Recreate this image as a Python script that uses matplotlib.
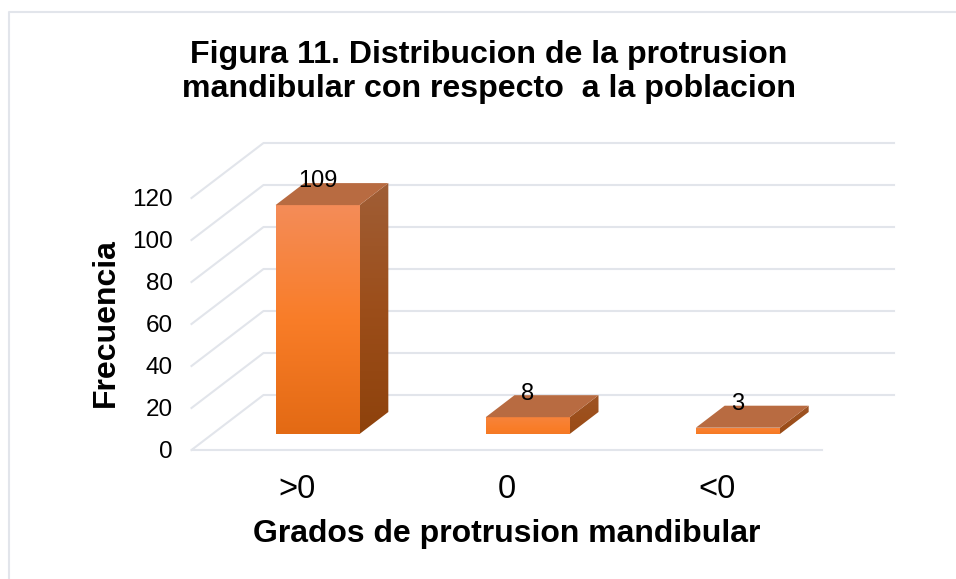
import numpy as np
import matplotlib
matplotlib.use('Agg')
import matplotlib.pyplot as plt
from matplotlib.colors import LinearSegmentedColormap
from matplotlib.lines import Line2D
from matplotlib.patches import Polygon

plt.rcParams['font.family'] = ['Liberation Sans', 'DejaVu Sans']

categories = ['>0', '0', '<0']
values = [109, 8, 3]
yticks = [0, 20, 40, 60, 80, 100, 120]
title = 'Figura 11. Distribucion de la protrusion\nmandibular con respecto  a la poblacion'
xlabel = 'Grados de protrusion mandibular'
ylabel = 'Frecuencia'

W, H = 956, 579
fig = plt.figure(figsize=(W / 100, H / 100), dpi=100, facecolor='white')
L, R, T, B = 191.5, 822, 198, 450
ax = fig.add_axes([L / W, 1 - B / H, (R - L) / W, (B - T) / H])
ax.set_xlim(-0.5, 2.5)
ax.set_ylim(0, 120)
for s in ax.spines.values():
    s.set_visible(False)
ax.patch.set_visible(False)

px_x = (R - L) / 3
px_y = (B - T) / 120
DX, DY = 72 / px_x, 55 / px_y      # depth of the floor
D0, D1 = 16 / 55, 38 / 55          # depth span of the bars
BW = 84 / px_x

GRID = '#E2E5EB'
glw = 1.5
for v in yticks:
    ax.plot([-0.5, -0.5 + DX, 2.5 + DX], [v, v + DY, v + DY], color=GRID, lw=glw, clip_on=False, zorder=1)
ax.plot([-0.5, 2.5], [0, 0], color=GRID, lw=glw, clip_on=False, zorder=1)

front = LinearSegmentedColormap.from_list('f', ['#F48C58', '#F97D28', '#E36A14'])
side = LinearSegmentedColormap.from_list('s', ['#A05E36', '#9C4E1A', '#8E420C'])


def face(poly, cmap, t0, t1, z):
    pts = np.array(poly)
    grad = np.linspace(t0, t1, 128).reshape(-1, 1)
    im = ax.imshow(grad, cmap=cmap, vmin=0, vmax=1, aspect='auto', zorder=z,
                   extent=[pts[:, 0].min(), pts[:, 0].max(), pts[:, 1].min(), pts[:, 1].max()])
    clip = Polygon(pts, closed=True, transform=ax.transData)
    im.set_clip_path(clip)
    im.set_clip_box(fig.bbox)


for i, v in enumerate(values):
    x0 = i - BW / 2 + DX * D0
    x1 = x0 + BW
    y0 = DY * D0
    y1 = y0 + v
    ex, ey = DX * (D1 - D0), DY * (D1 - D0)
    t0, t1 = (0, 1) if v > 50 else (0.3, 0.6)
    face([(x0, y0), (x1, y0), (x1, y1), (x0, y1)], front, t0, t1, 3)
    face([(x1, y0), (x1 + ex, y0 + ey), (x1 + ex, y1 + ey), (x1, y1)], side, t0, t1, 3)
    ax.add_patch(Polygon([(x0, y1), (x1, y1), (x1 + ex, y1 + ey), (x0 + ex, y1 + ey)],
                         closed=True, fc='#B86B41', ec='none', clip_on=False, zorder=3))
    ax.annotate(str(v), xy=((x0 + x1) / 2, y1), xytext=(0, 17), textcoords='offset points',
                ha='center', va='center', fontsize=17, color='black', zorder=5, annotation_clip=False)

ax.set_xlim(-0.5, 2.5)
ax.set_ylim(0, 120)
ax.set_xticks(range(len(categories)), categories)
ax.set_yticks(yticks)
ax.tick_params(axis='x', length=0, pad=17, labelsize=23.5)
ax.tick_params(axis='y', length=0, pad=13.5, labelsize=17.5)

ax.set_xlabel(xlabel, fontsize=23, fontweight='bold')
ax.xaxis.set_label_coords(0.5, (B - 534) / (B - T), transform=ax.transAxes)
ax.xaxis.label.set_va('center')
ax.set_ylabel(ylabel, fontsize=23, fontweight='bold')
ax.yaxis.set_label_coords((106 - L) / (R - L), (B - 323) / (B - T), transform=ax.transAxes)
ax.yaxis.label.set_va('center')

fig.text(489 / W, 1 - 72 / H, title, ha='center', va='center', fontsize=23.1, fontweight='bold', linespacing=1.2)

fig.add_artist(Line2D([9 / W, 9 / W, 1], [0, 1 - 11.5 / H, 1 - 11.5 / H], color=GRID, lw=1.5))

fig.savefig('out.png', dpi=100)
